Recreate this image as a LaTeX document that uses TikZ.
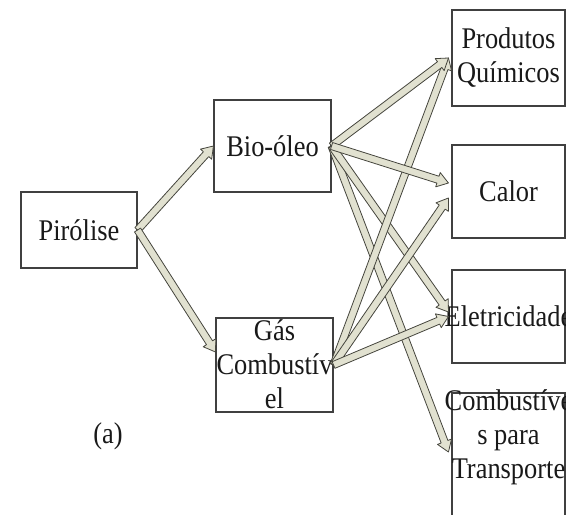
\documentclass[tikz,border=0pt]{standalone}
\usepackage{fontspec}
\setmainfont[FakeStretch=0.88]{Liberation Serif}
\usetikzlibrary{calc}
\definecolor{arrfill}{HTML}{E1E1D0}
\definecolor{arrline}{HTML}{45453D}
\tikzset{
  boxnode/.style={draw=black!75, line width=1.1pt, inner sep=0pt},
  txt/.style={align=center, inner sep=0pt, font=\fontsize{30}{34}\selectfont, text=black!90},
  fatarr/.style={draw=arrline, fill=arrfill, line width=0.8pt, line join=round}
}
\newcommand\fatarrow[2]{%
  \path (#1) coordinate (faA) (#2) coordinate (faB);
  \coordinate (faC) at ($(faB)!11pt!(faA)$);
  \filldraw[fatarr] ($(faA)!3.6pt!90:(faB)$) -- ($(faC)!3.6pt!90:(faB)$) -- ($(faC)!7.5pt!90:(faB)$)
    -- (faB) -- ($(faC)!7.5pt!-90:(faB)$) -- ($(faC)!3.6pt!-90:(faB)$) -- ($(faA)!3.6pt!-90:(faB)$) -- cycle;
}
\begin{document}
\begin{tikzpicture}[x=1pt,y=1pt]
\useasboundingbox (0,0) rectangle (566,515);
\clip (0,0) rectangle (566,515);
% boxes
\node[boxnode, minimum width=116pt, minimum height=76pt] (piro) at (79,285) {};
\node[boxnode, minimum width=117pt, minimum height=92pt] (bio) at (272.5,369) {};
\node[boxnode, minimum width=117pt, minimum height=94pt] (gas) at (274.5,150) {};
\node[boxnode, minimum width=113pt, minimum height=96pt] (prod) at (508.5,457) {};
\node[boxnode, minimum width=113pt, minimum height=93pt] (calor) at (508.5,323.5) {};
\node[boxnode, minimum width=113pt, minimum height=93pt] (elec) at (508.5,198.5) {};
\node[boxnode, minimum width=113pt, minimum height=132pt] (comb) at (508.5,56) {};
% texts
\node[txt] (tpiro) at (piro) {Pirólise};
\node[txt] (tbio) at (bio) {Bio-óleo};
\node[txt] (tgas) at ($(gas)+(0,1)$) {Gás\\Combustív\\el};
\node[txt] (tprod) at (prod) {Produtos\\Químicos};
\node[txt] (tcalor) at (calor) {Calor};
\node[txt] (telec) at (elec) {Eletricidade};
\node[txt] (tcomb) at ($(comb.north)+(0,-45)$) {Combustíve\\s para\\Transporte};
\node[txt] (lbl) at (108,79) {(a)};
% arrow end points
\coordinate (gw) at ($(gas.west)+(0,13)$);
\coordinate (pw) at ($(prod.west)+(-3,0)$);
\coordinate (cw1) at ($(calor.west)+(-3,8.5)$);
\coordinate (cw2) at ($(calor.west)+(-3,-6.5)$);
\coordinate (ew1) at ($(elec.west)+(-3,4.5)$);
\coordinate (ew2) at ($(elec.west)+(-3,0)$);
\coordinate (bw) at ($(comb.west)+(-3,7)$);
% arrows
\fatarrow{piro.east}{bio.west}
\fatarrow{piro.east}{gw}
\fatarrow{bio.east}{bw}
\fatarrow{bio.east}{ew1}
\fatarrow{gas.east}{pw}
\fatarrow{gas.east}{cw2}
\fatarrow{gas.east}{ew2}
\fatarrow{bio.east}{pw}
\fatarrow{bio.east}{cw1}
\end{tikzpicture}
\end{document}
